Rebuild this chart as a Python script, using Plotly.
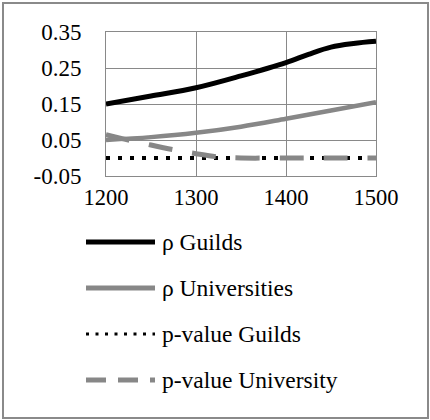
import plotly.graph_objects as go

# ---- data ----
years_guilds = [1200, 1250, 1300, 1350, 1400, 1425, 1450, 1475, 1500]
rho_guilds = [0.150, 0.172, 0.195, 0.228, 0.265, 0.288, 0.308, 0.318, 0.324]

years_univ = [1200, 1250, 1300, 1350, 1400, 1450, 1500]
rho_univ = [0.050, 0.058, 0.070, 0.087, 0.109, 0.132, 0.155]

years_pg = [1200, 1500]
p_guilds = [0.0, 0.0]

years_pu = [1200, 1225, 1250, 1275, 1300, 1325, 1350, 1400, 1450, 1500]
p_univ = [0.065, 0.050, 0.036, 0.023, 0.012, 0.003, 0.0, 0.0, 0.0, 0.0]

x_ticks = [1200, 1300, 1400, 1500]
y_ticks = [-0.05, 0.05, 0.15, 0.25, 0.35]
y_tick_labels = ["-0.05", "0.05", "0.15", "0.25", "0.35"]

series_names = ["ρ Guilds", "ρ Universities", "p-value Guilds", "p-value University"]

# ---- figure geometry ----
W, H = 430, 420
L, R, T, B = 106, 54, 32, 244
PW, PH = W - L - R, H - T - B

def px2x(px):
    return (px - L) / PW

def py2y(py):
    return (H - B - py) / PH

FONT = "Liberation Serif"
GRID = "#898989"
GRAY = "#878787"

fig = go.Figure()
fig.add_trace(go.Scatter(x=years_guilds, y=rho_guilds, mode="lines", name=series_names[0],
                         line=dict(color="#000000", width=5, shape="spline"), showlegend=False))
fig.add_trace(go.Scatter(x=years_univ, y=rho_univ, mode="lines", name=series_names[1],
                         line=dict(color=GRAY, width=4.5, shape="spline"), showlegend=False))
fig.add_trace(go.Scatter(x=years_pg, y=p_guilds, mode="lines", name=series_names[2],
                         line=dict(color="#000000", width=4, dash="4px,8px"), showlegend=False))
fig.add_trace(go.Scatter(x=years_pu, y=p_univ, mode="lines", name=series_names[3],
                         line=dict(color=GRAY, width=5, dash="24px,20px", shape="spline"),
                         showlegend=False))

# ---- manual legend ----
legend_rows = [242, 288, 334, 380]
legend_styles = [
    dict(color="#000000", width=5, dash="solid"),
    dict(color=GRAY, width=5, dash="solid"),
    dict(color="#000000", width=3, dash="3px,6.5px"),
    dict(color=GRAY, width=5, dash="20px,12px"),
]
shapes = []
annotations = []
for name, row, st in zip(series_names, legend_rows, legend_styles):
    shapes.append(dict(type="line", xref="paper", yref="paper",
                       x0=px2x(86), x1=px2x(155), y0=py2y(row), y1=py2y(row),
                       line=st))
    annotations.append(dict(xref="paper", yref="paper", x=px2x(160), y=py2y(row),
                            text=name, showarrow=False, xanchor="left", yanchor="middle",
                            font=dict(family=FONT, size=23.5, color="#000000")))

# outer border
shapes.append(dict(type="rect", xref="paper", yref="paper",
                   x0=px2x(3), x1=px2x(428), y0=py2y(418), y1=py2y(3),
                   line=dict(color="#8a8a8a", width=2), layer="below"))

fig.update_layout(
    width=W, height=H,
    margin=dict(l=L, r=R, t=T, b=B),
    paper_bgcolor="white", plot_bgcolor="white",
    font=dict(family=FONT, size=23, color="#000000"),
    shapes=shapes, annotations=annotations,
    showlegend=False,
)
fig.update_xaxes(range=[1200, 1500], tickvals=x_ticks, showgrid=True, gridcolor=GRID, gridwidth=1,
                 showline=True, linecolor=GRID, linewidth=1, mirror=True, zeroline=False,
                 ticks="", ticklabelstandoff=1, tickfont=dict(family=FONT, size=22.5, color="#000000"))
fig.update_yaxes(range=[-0.05, 0.35], tickvals=y_ticks, ticktext=y_tick_labels, showgrid=True,
                 gridcolor=GRID, gridwidth=1, showline=True, linecolor=GRID, linewidth=1, mirror=True,
                 zeroline=False, ticks="", ticklabelstandoff=19,
                 tickfont=dict(family=FONT, size=23, color="#000000"))

fig.write_html("out.html", config={"displayModeBar": False},
               post_script="document.body.style.margin='0px';")
